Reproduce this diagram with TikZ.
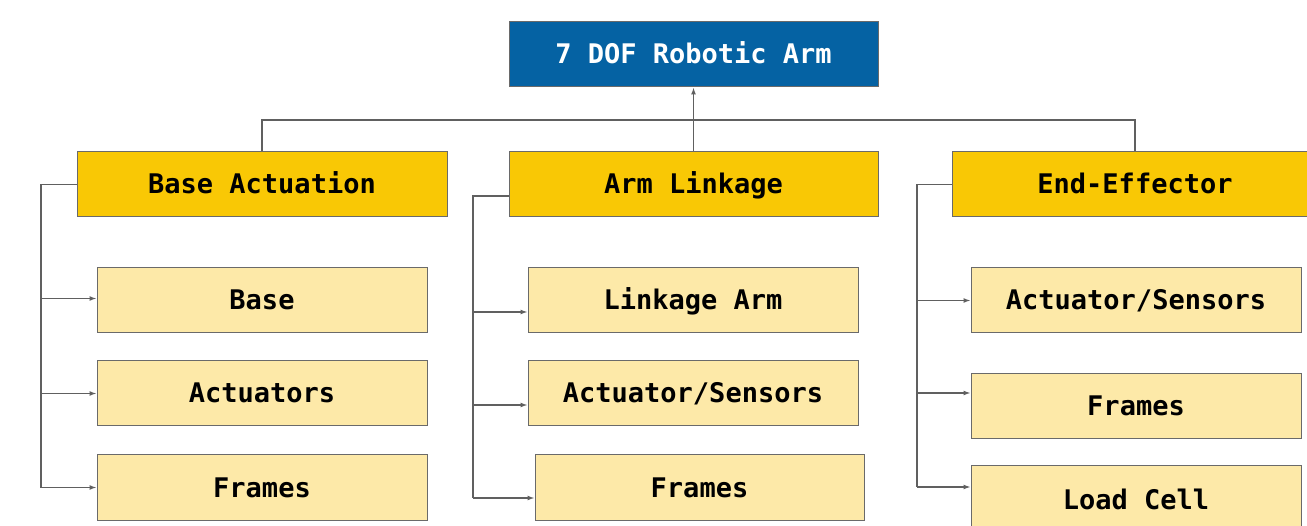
\documentclass[tikz,border=0pt]{standalone}
\usepackage{fontspec}
\setmonofont{DejaVu Sans Mono}
\usetikzlibrary{arrows.meta}
\definecolor{topblue}{HTML}{0562A3}
\definecolor{gold}{HTML}{F9C805}
\definecolor{light}{HTML}{FDE9A8}
\definecolor{edge}{HTML}{6A6A6A}
\definecolor{wire}{HTML}{606060}
\tikzset{
  box/.style={draw=edge, line width=1pt, inner sep=0pt, minimum height=65pt,
    text height=20pt, text depth=1pt,
    font=\fontsize{27}{32}\selectfont\ttfamily\bfseries},
  rootbox/.style={box, fill=topblue, text=white, minimum width=369pt},
  groupbox/.style={box, fill=gold, text=black},
  leafbox/.style={box, fill=light, text=black, minimum width=330pt},
  conn/.style={draw=wire, line width=1.3pt},
  arr/.style={conn, -{Latex[length=7pt,width=5pt]}},
}
\begin{document}
\begin{tikzpicture}[x=1pt,y=-1pt]
\useasboundingbox (0,0) rectangle (1307,526);
\clip (0,0) rectangle (1307,526);
\fill[white] (0,0) rectangle (1307,526);

% nodes
\node[rootbox] (root) at (693.5,54.5) {7 DOF Robotic Arm};
\node[groupbox, minimum width=370pt] (ba) at (262,184.5) {Base Actuation};
\node[groupbox, minimum width=369pt] (al) at (693.5,184.5) {Arm Linkage};
\node[groupbox, minimum width=366pt] (ee) at (1135,184.5) {End-Effector};

\node[leafbox] (base) at (262,300.5) {Base};
\node[leafbox] (acts) at (262,393.5) {Actuators};
\node[leafbox] (fr1) at (262,487.5) {Frames};

\node[leafbox] (link) at (693,300.5) {Linkage Arm};
\node[leafbox] (as2) at (693,393.5) {Actuator/Sensors};
\node[leafbox, minimum width=329pt] (fr2) at (699.5,487.5) {Frames};

\node[leafbox] (as3) at (1136,300.5) {Actuator/Sensors};
\node[leafbox] (fr3) at (1136,406.5) {Frames};
\node[leafbox, minimum height=67pt] (lc) at (1136,499.5) {Load Cell};

% helper coordinates
\coordinate (hline) at (0,120);
\coordinate (xl) at (41,0);
\coordinate (xm) at (473,0);
\coordinate (xr) at (917,0);

% top level connectors
\draw[conn] (ba.north) -- (ba.north |- hline) -- (ee.north |- hline) -- (ee.north);
\draw[arr] (al.north) -- (root.south);

% left column
\draw[conn] (ba.west) -- (ba.west -| xl) -- (xl |- fr1.west);
\draw[arr] ([yshift=2pt]base.west -| xl) -- ([yshift=2pt]base.west);
\draw[arr] (acts.west -| xl) -- (acts.west);
\draw[arr] (fr1.west -| xl) -- (fr1.west);

% middle column
\coordinate (alw) at ([yshift=-11.5pt]al.west);
\coordinate (m1) at ([yshift=-11.5pt]link.west);
\coordinate (m2) at ([yshift=-11.5pt]as2.west);
\coordinate (m3) at ([yshift=-10.5pt]fr2.west);
\draw[conn] (alw) -- (alw -| xm) -- (xm |- m3);
\draw[arr] (m1 -| xm) -- (m1);
\draw[arr] (m2 -| xm) -- (m2);
\draw[arr] (m3 -| xm) -- (m3);

% right column
\coordinate (r2) at ([yshift=13.5pt]fr3.west);
\coordinate (r3) at ([yshift=12.5pt]lc.west);
\draw[conn] (ee.west) -- (ee.west -| xr) -- (xr |- r3);
\draw[arr] (as3.west -| xr) -- (as3.west);
\draw[arr] (r2 -| xr) -- (r2);
\draw[arr] (r3 -| xr) -- (r3);
\end{tikzpicture}
\end{document}
